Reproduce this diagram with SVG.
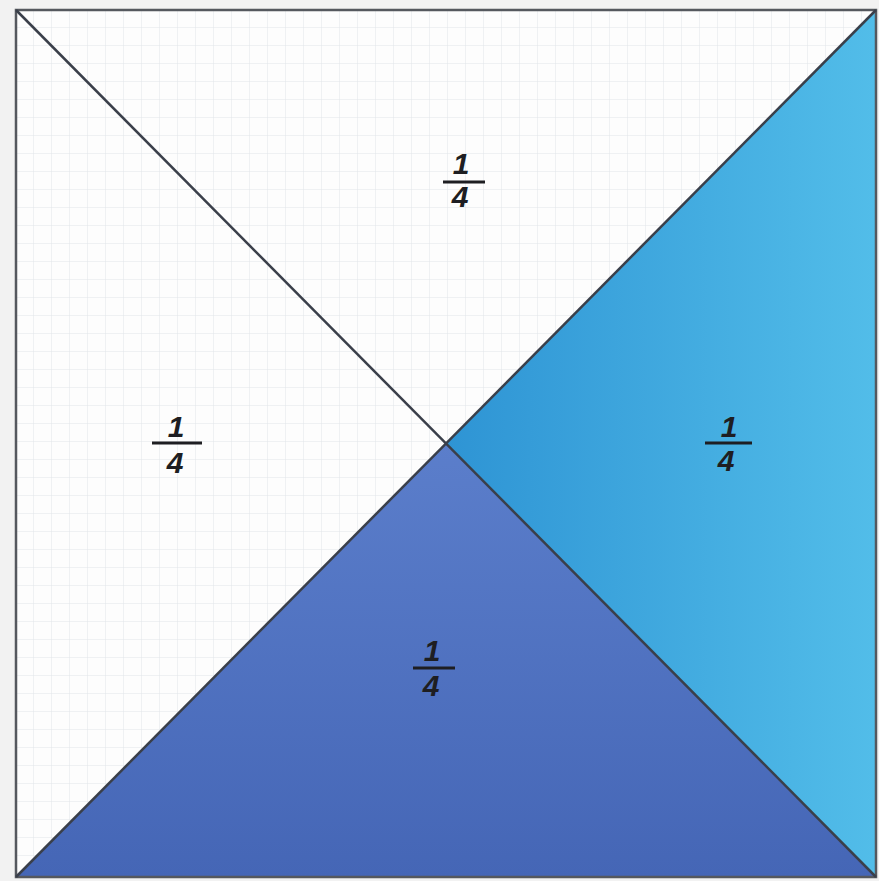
<svg xmlns="http://www.w3.org/2000/svg" width="879" height="881" viewBox="0 0 879 881">
<style>
.frac-num{font-family:"Liberation Sans",Arial,sans-serif;font-size:30px;font-style:italic;font-weight:bold;fill:#1e1e22;text-anchor:middle}
.frac-bar{stroke:#1e1e22;stroke-width:3}
.diag{stroke:#3a3f4a;stroke-width:2.5;fill:none}
</style>
<defs>
<pattern id="grid" x="16" y="10" width="18" height="18" patternUnits="userSpaceOnUse">
<rect width="18" height="18" fill="#fdfdfd"/>
<path d="M18 0V18M0 18H18" stroke="#e2e6ea" stroke-width="1"/>
</pattern>
<linearGradient id="lightBlue" x1="0" y1="0" x2="1" y2="0">
<stop offset="0" stop-color="#2e94d4"/>
<stop offset="1" stop-color="#52bde9"/>
</linearGradient>
<linearGradient id="darkBlue" x1="0" y1="0" x2="0" y2="1">
<stop offset="0" stop-color="#5b7ecb"/>
<stop offset="1" stop-color="#4566b6"/>
</linearGradient>
</defs>
<rect width="879" height="881" fill="#f2f2f2"/>
<g id="square">
<rect x="16" y="10" width="860" height="867" fill="url(#grid)"/>
</g>
<g id="right-quarter">
<polygon points="876,10 876,877 446,443.5" fill="url(#lightBlue)"/>
</g>
<g id="bottom-quarter">
<polygon points="16,877 876,877 446,443.5" fill="url(#darkBlue)"/>
</g>
<g id="connectors">
<rect x="16" y="10" width="860" height="867" fill="none" stroke="#55585e" stroke-width="2.5"/>
<line class="diag" x1="16" y1="10" x2="876" y2="877"/>
<line class="diag" x1="876" y1="10" x2="16" y2="877"/>
</g>
<g id="label-top">
<text class="frac-num" x="461" y="174">1</text>
<line class="frac-bar" x1="443" y1="182" x2="485" y2="182"/>
<text class="frac-num" x="460" y="207">4</text>
</g>
<g id="label-left">
<text class="frac-num" x="176" y="437">1</text>
<line class="frac-bar" x1="152" y1="443" x2="202" y2="443"/>
<text class="frac-num" x="175" y="473">4</text>
</g>
<g id="label-right">
<text class="frac-num" x="729" y="437">1</text>
<line class="frac-bar" x1="705" y1="443" x2="752" y2="443"/>
<text class="frac-num" x="726" y="471">4</text>
</g>
<g id="label-bottom">
<text class="frac-num" x="432" y="661">1</text>
<line class="frac-bar" x1="413" y1="668" x2="455" y2="668"/>
<text class="frac-num" x="431" y="696">4</text>
</g>
</svg>
